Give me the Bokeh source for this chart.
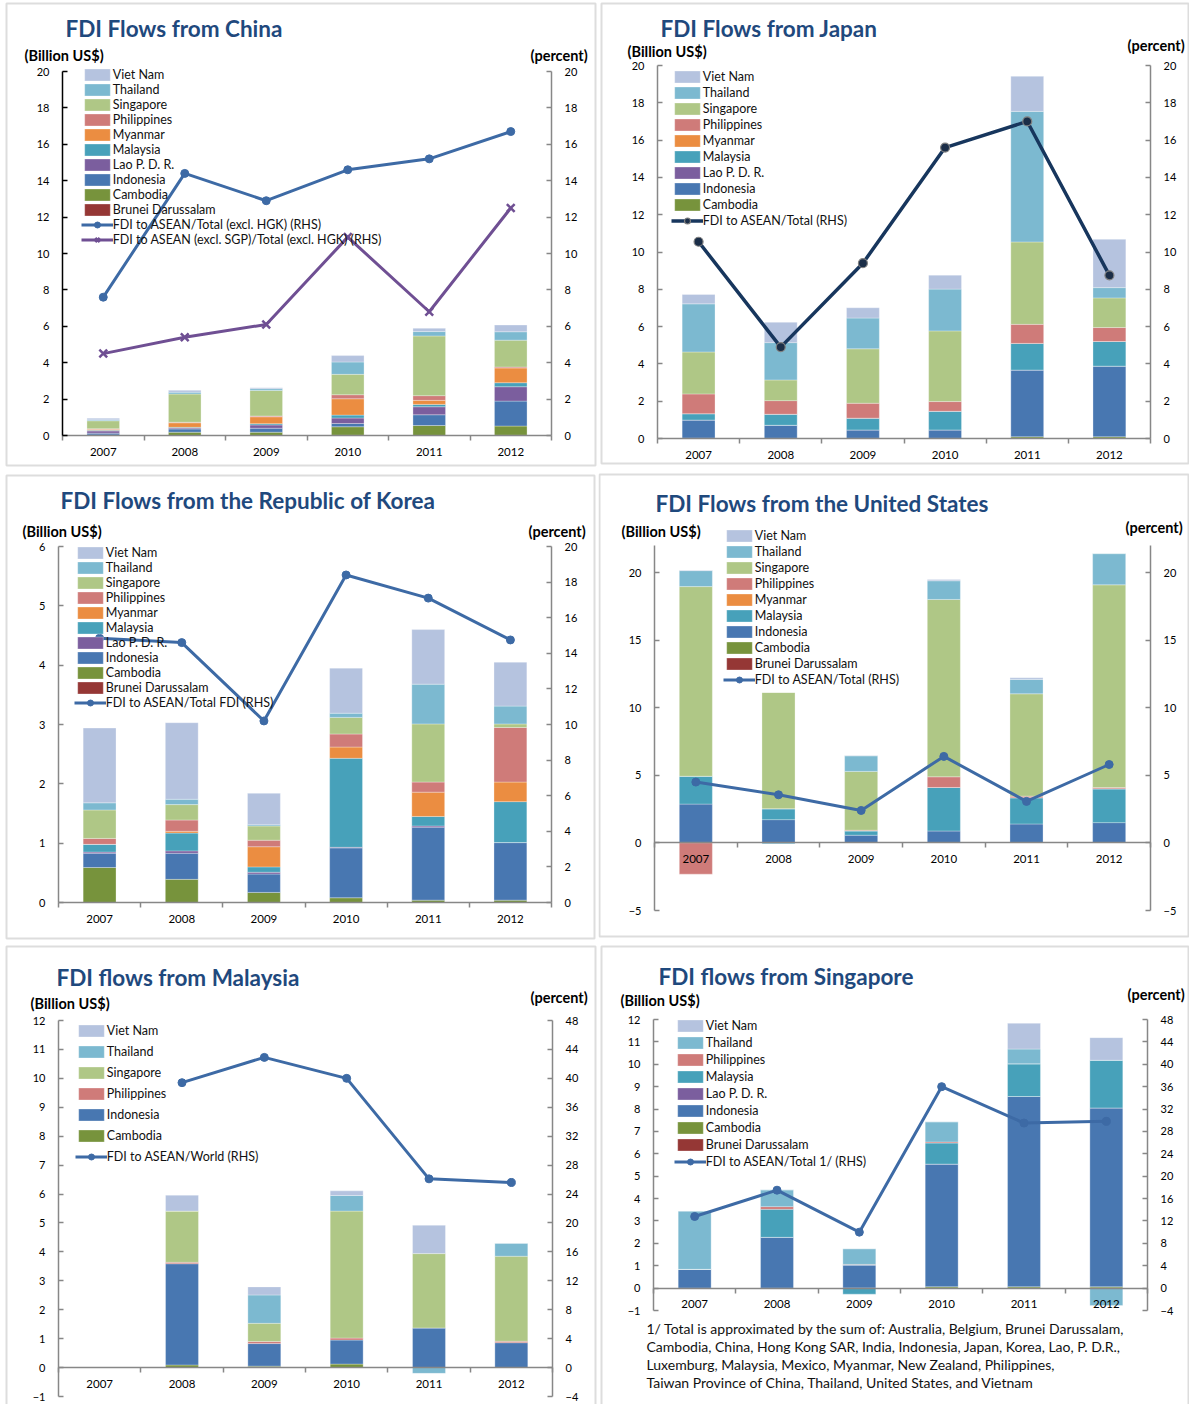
import math
from bokeh.plotting import figure
from bokeh.models import (ColumnDataSource, Range1d, LinearAxis, FixedTicker,
                          Legend, LegendItem, Label, BoxAnnotation)
from bokeh.layouts import column, row
from bokeh.embed import file_html
from bokeh.resources import INLINE

YEARS = ["2007", "2008", "2009", "2010", "2011", "2012"]

# ---------------- China (billion US$) ----------------
cn_brunei      = [0.00, 0.00, 0.00, 0.01, 0.00, 0.01]
cn_cambodia    = [0.03, 0.18, 0.18, 0.47, 0.55, 0.51]
cn_indonesia   = [0.10, 0.18, 0.22, 0.18, 0.59, 1.37]
cn_lao         = [0.12, 0.05, 0.18, 0.30, 0.44, 0.79]
cn_malaysia    = [0.04, 0.04, 0.07, 0.16, 0.13, 0.22]
cn_myanmar     = [0.05, 0.25, 0.38, 0.90, 0.22, 0.81]
cn_philippines = [0.03, 0.03, 0.04, 0.22, 0.26, 0.05]
cn_singapore   = [0.44, 1.55, 1.40, 1.12, 3.28, 1.48]
cn_thailand    = [0.05, 0.10, 0.10, 0.68, 0.24, 0.46]
cn_vietnam     = [0.09, 0.10, 0.06, 0.35, 0.18, 0.37]
cn_share        = [7.6, 14.4, 12.9, 14.6, 15.2, 16.7]
cn_share_ex_sgp = [4.5, 5.4, 6.1, 10.9, 6.8, 12.5]

# ---------------- Japan ----------------
jp_cambodia    = [0.02, 0.01, 0.01, 0.01, 0.09, 0.09]
jp_indonesia   = [0.97, 0.70, 0.45, 0.45, 3.58, 3.79]
jp_lao         = [0.00, 0.00, 0.00, 0.00, 0.00, 0.00]
jp_malaysia    = [0.34, 0.59, 0.63, 1.00, 1.43, 1.32]
jp_myanmar     = [0.00, 0.00, 0.00, 0.00, 0.00, 0.00]
jp_philippines = [1.06, 0.73, 0.80, 0.52, 1.02, 0.75]
jp_singapore   = [2.25, 1.11, 2.92, 3.79, 4.42, 1.59]
jp_thailand    = [2.58, 2.00, 1.65, 2.24, 7.00, 0.55]
jp_vietnam     = [0.50, 1.09, 0.55, 0.75, 1.88, 2.59]
jp_share       = [10.55, 4.9, 9.4, 15.6, 17.0, 8.75]

# ---------------- Republic of Korea ----------------
kr_brunei      = [0.00, 0.00, 0.00, 0.00, 0.00, 0.00]
kr_cambodia    = [0.59, 0.39, 0.17, 0.08, 0.04, 0.04]
kr_indonesia   = [0.24, 0.44, 0.31, 0.84, 1.23, 0.97]
kr_lao         = [0.02, 0.04, 0.03, 0.01, 0.02, 0.00]
kr_malaysia    = [0.13, 0.30, 0.09, 1.50, 0.16, 0.69]
kr_myanmar     = [0.00, 0.03, 0.34, 0.19, 0.41, 0.33]
kr_philippines = [0.10, 0.19, 0.11, 0.22, 0.17, 0.92]
kr_singapore   = [0.48, 0.26, 0.24, 0.28, 0.98, 0.06]
kr_thailand    = [0.12, 0.09, 0.02, 0.07, 0.67, 0.30]
kr_vietnam     = [1.26, 1.29, 0.53, 0.76, 0.92, 0.74]
kr_share       = [14.85, 14.6, 10.2, 18.4, 17.1, 14.75]

# ---------------- United States ----------------
us_brunei      = [0.00, 0.00, 0.00, 0.00, 0.00, 0.00]
us_cambodia    = [0.00, 0.00, 0.00, 0.00, 0.00, 0.00]
us_indonesia   = [2.87, 1.72, 0.57, 0.88, 1.40, 1.50]
us_malaysia    = [2.06, 0.81, 0.32, 3.22, 1.94, 2.50]
us_myanmar     = [0.00, 0.00, 0.00, 0.00, 0.00, 0.00]
us_philippines = [-2.31, 0.00, 0.05, 0.79, 0.12, 0.10]
us_singapore   = [14.03, 8.60, 4.35, 13.12, 7.57, 14.99]
us_thailand    = [1.18, -0.08, 1.15, 1.38, 1.06, 2.31]
us_vietnam     = [0.03, 0.00, 0.03, 0.10, 0.12, 0.00]
us_share       = [4.5, 3.56, 2.4, 6.4, 3.07, 5.8]

# ---------------- Malaysia ----------------
my_cambodia    = [0.00, 0.09, 0.05, 0.12, 0.00, 0.00]
my_indonesia   = [0.00, 3.50, 0.78, 0.83, 1.37, 0.86]
my_philippines = [0.00, 0.05, 0.07, 0.07, 0.00, 0.05]
my_singapore   = [0.00, 1.77, 0.63, 4.39, 2.57, 2.94]
my_thailand    = [0.00, 0.00, 0.98, 0.54, -0.20, 0.45]
my_vietnam     = [0.00, 0.55, 0.28, 0.16, 0.98, 0.00]
my_share       = [float("nan"), 39.4, 42.9, 40.0, 26.1, 25.6]

# ---------------- Singapore ----------------
sg_brunei      = [0.00, 0.00, 0.00, 0.00, 0.00, 0.00]
sg_cambodia    = [0.00, 0.00, 0.00, 0.06, 0.06, 0.06]
sg_indonesia   = [0.84, 2.27, 1.03, 5.48, 8.50, 7.99]
sg_lao         = [0.00, 0.00, 0.00, 0.00, 0.00, 0.00]
sg_malaysia    = [0.00, 1.25, -0.27, 0.94, 1.46, 2.13]
sg_philippines = [0.00, 0.12, 0.03, 0.05, 0.00, 0.00]
sg_thailand    = [2.60, 0.75, 0.70, 0.90, 0.66, -0.78]
sg_vietnam     = [0.00, 0.00, 0.00, 0.00, 1.15, 1.01]
sg_share       = [12.8, 17.5, 10.0, 36.0, 29.5, 29.8]

FOOTNOTE = [
    "1/ Total is approximated by the sum of: Australia, Belgium, Brunei Darussalam,",
    "Cambodia, China, Hong Kong SAR, India, Indonesia, Japan, Korea, Lao, P. D.R.,",
    "Luxemburg, Malaysia, Mexico, Myanmar, New Zealand, Philippines,",
    "Taiwan Province of China, Thailand, United States, and Vietnam",
]

# ---------------- styling ----------------
FONT = "Lato"
TITLE_COLOR = "#1F497D"
AXIS_GRAY = "#878787"
BLUE_LINE = "#3D6AA5"
COLORS = {
    "Brunei Darussalam": "#953735",
    "Cambodia": "#77933C",
    "Indonesia": "#4877B1",
    "Lao P. D. R.": "#7B5E9E",
    "Malaysia": "#47A1BA",
    "Myanmar": "#EB8D41",
    "Philippines": "#CF7B79",
    "Singapore": "#AFC786",
    "Thailand": "#7CB9D0",
    "Viet Nam": "#B5C3DF",
}

COL_X = [0, 598]
COL_W = [598, 591]
ROW_Y = [0, 470, 942]
ROW_H = [470, 472, 462]


def style_y(ax, color, ticks, standoff):
    ax.ticker = FixedTicker(ticks=ticks)
    ax.axis_line_color = color
    ax.axis_line_width = 1.5
    ax.major_tick_line_color = color
    ax.major_tick_line_width = 1.5
    ax.major_tick_in = 5
    ax.major_tick_out = 0
    ax.minor_tick_line_color = None
    ax.major_label_text_font = FONT
    ax.major_label_text_font_size = "11px"
    ax.major_label_text_color = "black"
    ax.major_label_standoff = standoff


def make_panel(col, rw, frame, yrange, rrange, yticks, rticks, series, lines,
               leg, title, title_xy, units_xy, pct_xy, border,
               left_color=AXIS_GRAY, extra=None):
    ox, oy = COL_X[col], ROW_Y[rw]
    w, h = COL_W[col], ROW_H[rw]
    fl, ft, fr, fb = frame          # plot-area box (page pixels)
    ylo, yhi = yrange
    rlo, rhi = rrange
    n_cat = len(YEARS)

    def xd(px):
        return (px - fl) / (fr - fl) * n_cat

    def yd(py, lo, hi):
        return lo + (fb - py) / (fb - ft) * (hi - lo)

    p = figure(width=w, height=h,
               x_range=Range1d(xd(ox), xd(ox + w)),
               y_range=Range1d(yd(oy + h, ylo, yhi), yd(oy, ylo, yhi)),
               output_backend="svg", toolbar_location=None,
               min_border=0, min_border_left=0, min_border_right=0,
               min_border_top=0, min_border_bottom=0)
    p.title.visible = False
    p.outline_line_color = None
    p.xgrid.visible = False
    p.ygrid.visible = False
    p.background_fill_color = "white"
    p.border_fill_color = "white"
    p.extra_y_ranges = {"right": Range1d(yd(oy + h, rlo, rhi), yd(oy, rlo, rhi))}

    # axes (fixed inside the canvas)
    lax = p.yaxis[0]
    style_y(lax, left_color, yticks, 13)
    lax.fixed_location = 0
    lax.bounds = (ylo, yhi)
    rax = LinearAxis(y_range_name="right", fixed_location=n_cat, bounds=(rlo, rhi))
    style_y(rax, AXIS_GRAY, rticks, 13)
    p.add_layout(rax, "right")

    xax = p.xaxis[0]
    xs = [i + 0.5 for i in range(n_cat)]
    xax.ticker = FixedTicker(ticks=xs, minor_ticks=list(range(n_cat + 1)))
    xax.major_label_overrides = {x: y for x, y in zip(xs, YEARS)}
    xax.fixed_location = 0
    xax.bounds = (0, n_cat)
    xax.axis_line_color = AXIS_GRAY
    xax.axis_line_width = 1.5
    xax.major_tick_line_color = None
    xax.major_tick_in = 0
    xax.major_tick_out = 0
    xax.minor_tick_line_color = AXIS_GRAY
    xax.minor_tick_line_width = 1.5
    xax.minor_tick_in = 0
    xax.minor_tick_out = 5
    xax.major_label_text_font = FONT
    xax.major_label_text_font_size = "11.5px"
    xax.major_label_text_color = "black"
    xax.major_label_standoff = 7

    # stacked bars (positives up, negatives down)
    pos = [0.0] * n_cat
    neg = [0.0] * n_cat
    bar_items = []
    for name, vals in series:
        bottoms, tops = [], []
        for i, v in enumerate(vals):
            if v >= 0:
                b, t = pos[i], pos[i] + v
                pos[i] = t
            else:
                t, b = neg[i], neg[i] + v
                neg[i] = b
            bottoms.append(b)
            tops.append(t)
        src = ColumnDataSource(dict(x=xs, bottom=bottoms, top=tops))
        r = p.vbar(x="x", bottom="bottom", top="top", width=0.4, source=src,
                   fill_color=COLORS[name], line_color="white", line_width=0.5,
                   line_alpha=0.6)
        bar_items.append(LegendItem(label=name, renderers=[r]))
    items = list(reversed(bar_items))

    for ln in lines:
        src = ColumnDataSource(dict(x=xs, y=ln["vals"]))
        lr = p.line(x="x", y="y", source=src, y_range_name="right",
                    line_color=ln["color"], line_width=ln.get("width", 3),
                    line_join="round")
        sr = p.scatter(x="x", y="y", source=src, y_range_name="right",
                       marker=ln["marker"], size=ln["size"],
                       fill_color=ln.get("fill", ln["color"]),
                       line_color=ln.get("mline", ln["color"]),
                       line_width=ln.get("mwidth", 1))
        items.append(LegendItem(label=ln["label"], renderers=[lr, sr]))

    patch_left, first_center, pitch = leg
    G = 15
    sp = pitch - G
    gw = 32
    n = len(items)
    lh = n * G + (n - 1) * sp
    vx = patch_left - 0.1 * gw - ox
    vy = (oy + h) - (first_center - G / 2 + lh)
    legend = Legend(items=items, location=(vx, vy), orientation="vertical",
                    glyph_width=gw, glyph_height=G, label_height=G, label_width=10,
                    spacing=sp, padding=0, margin=0, label_standoff=0,
                    border_line_color=None, background_fill_alpha=0,
                    label_text_font=FONT, label_text_font_size="12.5px",
                    label_text_color="#111111")
    p.add_layout(legend, "center")

    # panel frame
    bx0, by0, bx1, by1 = border
    bx0 = max(bx0, ox + 1)
    by0 = max(by0, oy + 1)
    bx1 = min(bx1, ox + w - 1)
    p.add_layout(BoxAnnotation(left=bx0 - ox, right=bx1 - ox,
                               top=oy + h - by0, bottom=oy + h - by1,
                               left_units="screen", right_units="screen",
                               top_units="screen", bottom_units="screen",
                               fill_color=None, fill_alpha=0,
                               line_color="#8E8E8E", line_width=2))

    def add_text(px, py, text, size, bold=False, color="black"):
        p.add_layout(Label(x=px - ox, y=oy + h - py, x_units="screen", y_units="screen",
                           text=text, text_font=FONT, text_font_size=size,
                           text_font_style="bold" if bold else "normal",
                           text_color=color, text_baseline="middle", text_align="left"))

    add_text(title_xy[0], title_xy[1], title, "22.5px", True, TITLE_COLOR)
    add_text(units_xy[0], units_xy[1], "(Billion US$)", "14.5px", True)
    add_text(pct_xy[0], pct_xy[1], "(percent)", "14.5px", True)
    if extra:
        for (px, py, txt) in extra:
            add_text(px, py, txt, "14px", False, "#111111")
    return p


ALL10 = ["Brunei Darussalam", "Cambodia", "Indonesia", "Lao P. D. R.", "Malaysia",
         "Myanmar", "Philippines", "Singapore", "Thailand", "Viet Nam"]

china = make_panel(
    0, 0, (62, 71, 551, 435), (0, 20), (0, 20),
    list(range(0, 21, 2)), list(range(0, 21, 2)),
    list(zip(ALL10, [cn_brunei, cn_cambodia, cn_indonesia, cn_lao, cn_malaysia,
                     cn_myanmar, cn_philippines, cn_singapore, cn_thailand, cn_vietnam])),
    [dict(label="FDI to ASEAN/Total (excl. HGK) (RHS)", vals=cn_share, color=BLUE_LINE,
          marker="circle", size=8),
     dict(label="FDI to ASEAN (excl. SGP)/Total (excl. HGK) (RHS)", vals=cn_share_ex_sgp,
          color="#6F4F93", marker="x", size=11, mwidth=2.5)],
    (84, 74, 15), "FDI Flows from China", (65, 28), (24, 55), (530, 55),
    (6, 3, 595, 465), left_color="black")

japan = make_panel(
    1, 0, (657, 65, 1150, 438), (0, 20), (0, 20),
    list(range(0, 21, 2)), list(range(0, 21, 2)),
    list(zip(["Cambodia", "Indonesia", "Lao P. D. R.", "Malaysia", "Myanmar",
              "Philippines", "Singapore", "Thailand", "Viet Nam"],
             [jp_cambodia, jp_indonesia, jp_lao, jp_malaysia, jp_myanmar,
              jp_philippines, jp_singapore, jp_thailand, jp_vietnam])),
    [dict(label="FDI to ASEAN/Total (RHS)", vals=jp_share, color="#17365D",
          marker="circle", size=9, fill="#1B2E48", mline="#808080", mwidth=1.2, width=3.5)],
    (674, 76.7, 16), "FDI Flows from Japan", (660, 28), (627, 51), (1127, 45),
    (601, 3, 1190, 463))

korea = make_panel(
    0, 1, (58, 546, 551, 902), (0, 6), (0, 20),
    list(range(0, 7)), list(range(0, 21, 2)),
    list(zip(ALL10, [kr_brunei, kr_cambodia, kr_indonesia, kr_lao, kr_malaysia,
                     kr_myanmar, kr_philippines, kr_singapore, kr_thailand, kr_vietnam])),
    [dict(label="FDI to ASEAN/Total FDI (RHS)", vals=kr_share, color=BLUE_LINE,
          marker="circle", size=8)],
    (77, 552, 15), "FDI Flows from the Republic of Korea", (60, 500), (22, 531), (528, 531),
    (6, 475, 594, 938))

usa = make_panel(
    1, 1, (654, 545, 1150, 910), (-5, 22), (-5, 22),
    [-5, 0, 5, 10, 15, 20], [-5, 0, 5, 10, 15, 20],
    list(zip(["Brunei Darussalam", "Cambodia", "Indonesia", "Malaysia", "Myanmar",
              "Philippines", "Singapore", "Thailand", "Viet Nam"],
             [us_brunei, us_cambodia, us_indonesia, us_malaysia, us_myanmar,
              us_philippines, us_singapore, us_thailand, us_vietnam])),
    [dict(label="FDI to ASEAN/Total (RHS)", vals=us_share, color=BLUE_LINE,
          marker="circle", size=8)],
    (726, 535.7, 16), "FDI Flows from the United States", (655, 503), (621, 531), (1125, 527),
    (599, 474, 1190, 936))

malaysia = make_panel(
    0, 2, (58, 1020, 552, 1396), (-1, 12), (-4, 48),
    list(range(-1, 13)), list(range(-4, 49, 4)),
    list(zip(["Cambodia", "Indonesia", "Philippines", "Singapore", "Thailand", "Viet Nam"],
             [my_cambodia, my_indonesia, my_philippines, my_singapore, my_thailand, my_vietnam])),
    [dict(label="FDI to ASEAN/World (RHS)", vals=my_share, color=BLUE_LINE,
          marker="circle", size=8)],
    (78, 1030, 21), "FDI flows from Malaysia", (56, 977), (30, 1003), (530, 997),
    (6, 946, 595, 1430))

singapore = make_panel(
    1, 2, (653, 1019, 1147, 1310), (-1, 12), (-4, 48),
    list(range(-1, 13)), list(range(-4, 49, 4)),
    list(zip(["Brunei Darussalam", "Cambodia", "Indonesia", "Lao P. D. R.", "Malaysia",
              "Philippines", "Thailand", "Viet Nam"],
             [sg_brunei, sg_cambodia, sg_indonesia, sg_lao, sg_malaysia,
              sg_philippines, sg_thailand, sg_vietnam])),
    [dict(label="FDI to ASEAN/Total 1/ (RHS)", vals=sg_share, color=BLUE_LINE,
          marker="circle", size=8)],
    (677, 1025.7, 17), "FDI flows from Singapore", (658, 976), (620, 1000), (1127, 994),
    (601, 946, 1190, 1430),
    extra=[(646, 1328 + 18 * i, line) for i, line in enumerate(FOOTNOTE)])

layout = column(row(china, japan), row(korea, usa), row(malaysia, singapore))

with open("out.html", "w") as f:
    f.write(file_html(layout, INLINE))
